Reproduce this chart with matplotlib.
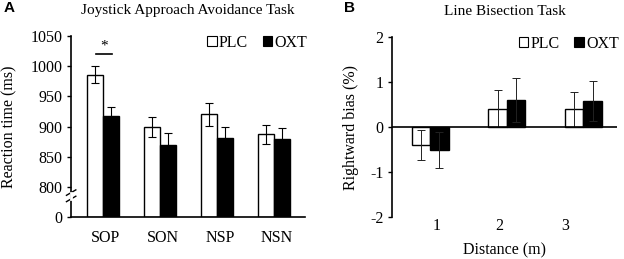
import numpy as np
import matplotlib.pyplot as plt
from matplotlib.patches import Patch

# Dados do painel A (tempo de reação, ms)
cond_a = ["SOP", "SON", "NSP", "NSN"]
plc_a = [986, 899, 920, 887]
plc_a_err = [14, 17, 19, 16]
oxt_a = [918, 869, 881, 879]
oxt_a_err = [15, 21, 19, 19]

# Dados do painel B (viés para a direita, %)
dist_b = ["1", "2", "3"]
plc_b = [-0.40, 0.41, 0.39]
plc_b_err = [0.33, 0.41, 0.38]
oxt_b = [-0.51, 0.61, 0.58]
oxt_b_err = [0.39, 0.49, 0.44]

plt.rcParams['font.family'] = ['Liberation Serif', 'DejaVu Serif']
plt.rcParams['font.size'] = 11.5

fig = plt.figure(figsize=(6.24, 2.59), dpi=100)
axA = fig.add_axes([0.114, 0.162, 0.375, 0.699])
axB = fig.add_axes([0.628, 0.162, 0.361, 0.695])

def legenda(ax):
    handles = [Patch(facecolor='white', edgecolor='black', lw=0.8),
               Patch(facecolor='black', edgecolor='black', lw=0.8)]
    ax.legend(handles, ["PLC", "OXT"], ncol=2, frameon=False, loc='upper right',
              handlelength=0.6, handleheight=0.6, handletextpad=0.15,
              columnspacing=0.9, fontsize=11.5, borderaxespad=0.2,
              bbox_to_anchor=(1.05, 1.06))

# ---- Painel A ----
base = 750
w = 0.28
x = np.arange(len(cond_a))
axA.bar(x - w/2, np.array(plc_a) - base, w, bottom=base, color='white',
        edgecolor='black', lw=1.0, yerr=plc_a_err, capsize=3,
        error_kw=dict(elinewidth=0.8, capthick=0.8, ecolor='black'), zorder=2)
axA.bar(x + w/2, np.array(oxt_a) - base, w, bottom=base, color='black',
        edgecolor='black', lw=1.0, yerr=oxt_a_err, capsize=3,
        error_kw=dict(elinewidth=0.8, capthick=0.8, ecolor='black'), zorder=2)
axA.set_xlim(-0.56, 3.54)
axA.set_ylim(base, 1050)
axA.set_yticks([750, 800, 850, 900, 950, 1000, 1050])
axA.set_yticklabels(["0", "800", "850", "900", "950", "1000", "1050"])
axA.set_xticks(x + 0.05)
axA.set_xticklabels(cond_a)
axA.tick_params(axis='x', length=0, pad=9)
axA.tick_params(axis='y', length=3, width=1, pad=3)
for s in ['top', 'right']:
    axA.spines[s].set_visible(False)
for s in ['left', 'bottom']:
    axA.spines[s].set_linewidth(1.2)
axA.set_ylabel("Reaction time (ms)", fontsize=11.5)
axA.yaxis.set_label_coords(-0.23, 0.5)
axA.set_title("Joystick Approach Avoidance Task", fontsize=11, pad=16)
# quebra do eixo
for yb in [0.10, 0.135]:
    axA.plot([-0.02, 0.02], [yb - 0.015, yb + 0.015], transform=axA.transAxes,
             color='black', lw=1.0, clip_on=False)
axA.plot([0, 0], [0.1, 0.135], transform=axA.transAxes, color='white', lw=2,
         clip_on=False, zorder=5)
# significância
axA.plot([-0.12, 0.16], [1020, 1020], color='black', lw=1.2)
axA.text(0.02, 1022, "*", ha='center', va='bottom', fontsize=11)
legenda(axA)

# ---- Painel B ----
w = 0.24
x = np.arange(len(dist_b))
axB.bar(x - w/2, plc_b, w, color='white', edgecolor='black', lw=1.0,
        yerr=plc_b_err, capsize=3,
        error_kw=dict(elinewidth=0.7, capthick=0.7, ecolor='#222222'), zorder=2)
axB.bar(x + w/2, oxt_b, w, color='black', edgecolor='black', lw=1.0,
        yerr=oxt_b_err, capsize=3,
        error_kw=dict(elinewidth=0.7, capthick=0.7, ecolor='#222222'), zorder=2)
axB.axhline(0, color='black', lw=1.2, zorder=3)
axB.set_xlim(-0.5, 2.44)
axB.set_ylim(-2, 2)
axB.set_yticks([-2, -1, 0, 1, 2])
axB.set_yticklabels(["-2", "-1", "0", "1", "2"])
axB.set_xticks(x + np.array([0.08, -0.1, -0.24]))
axB.set_xticklabels(dist_b)
axB.tick_params(axis='x', length=0, pad=1)
axB.tick_params(axis='y', length=3, width=1, pad=3)
for s in ['top', 'right', 'bottom']:
    axB.spines[s].set_visible(False)
axB.spines['left'].set_linewidth(1.2)
axB.set_ylabel("Rightward bias (%)", fontsize=11.5)
axB.yaxis.set_label_coords(-0.147, 0.5)
axB.set_xlabel("Distance (m)", fontsize=11.5, labelpad=6)
axB.set_title("Line Bisection Task", fontsize=11, pad=16)
legenda(axB)

# letras dos painéis
fig.text(0.006, 0.995, "A", fontsize=11, fontweight='bold', va='top',
         family='Liberation Sans')
fig.text(0.551, 0.995, "B", fontsize=11, fontweight='bold', va='top',
         family='Liberation Sans')

fig.savefig("out.png", dpi=100)
